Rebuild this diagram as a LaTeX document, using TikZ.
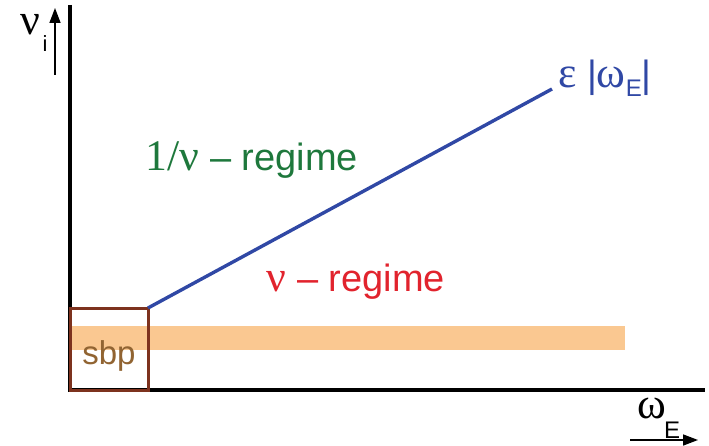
\documentclass[tikz,border=0pt]{standalone}
\usepackage{fontspec}
\setmainfont{Liberation Sans}
\newfontfamily\gr[Scale=1.15]{Liberation Serif}
\usetikzlibrary{arrows.meta}
\definecolor{lineblue}{RGB}{48,72,165}
\definecolor{grn}{RGB}{30,120,60}
\definecolor{rd}{RGB}{225,35,45}
\definecolor{band}{RGB}{250,200,145}
\definecolor{boxbrown}{RGB}{125,50,30}
\definecolor{sbptext}{RGB}{145,100,50}
\tikzset{
  axis/.style={line width=4pt, black},
  smallarrow/.style={line width=1.6pt, -{Triangle[length=15pt,width=11pt]}},
  lbl/.style={inner sep=0pt, anchor=center}
}
\begin{document}
\begin{tikzpicture}[x=1pt,y=-1pt]
\useasboundingbox (0,0) rectangle (709,446);
% band
\fill[band] (70,326) rectangle (625,350);
% axes
\coordinate (ytop) at (70,5);
\coordinate (origin) at (70,390);
\coordinate (xend) at (705,390);
\draw[axis] (ytop) -- (origin) -- (xend);
% sbp box
\draw[boxbrown, line width=3pt] (70,308) rectangle (148,390);
\node[lbl, text=sbptext, font=\fontsize{33}{33}\selectfont] (sbp) at (109,356) {sbp};
% blue line
\coordinate (p0) at (148,308);
\coordinate (p1) at (552,89);
\draw[lineblue, line width=3.4pt] (p0) -- (p1);
% labels
\node[lbl, text=lineblue, font=\fontsize{38}{38}\selectfont, anchor=west] (eps) at (558,78) {{\gr ε} |{\gr ω}\raisebox{-9pt}{\fontsize{24}{24}\selectfont E}|};
\node[lbl, text=grn, font=\fontsize{38}{38}\selectfont] (reg1) at (252,160) {{\gr 1/ν} – regime};
\node[lbl, text=rd, font=\fontsize{38}{38}\selectfont] (reg2) at (356,282) {{\gr ν} – regime};
% axis labels
\node[lbl, font=\fontsize{38}{38}\selectfont] (nu) at (30,25) {\gr ν};
\node[lbl, font=\fontsize{22}{22}\selectfont] (nui) at (45,44) {i};
\coordinate (ya) at (55,75);
\coordinate (yb) at (55,8);
\draw[smallarrow] (ya) -- (yb);
\node[lbl, font=\fontsize{38}{38}\selectfont] (om) at (652,408) {\gr ω};
\node[lbl, font=\fontsize{24}{24}\selectfont] (omE) at (672,430) {E};
\coordinate (xa) at (630,440);
\coordinate (xb) at (698,440);
\draw[smallarrow] (xa) -- (xb);
\end{tikzpicture}
\end{document}
